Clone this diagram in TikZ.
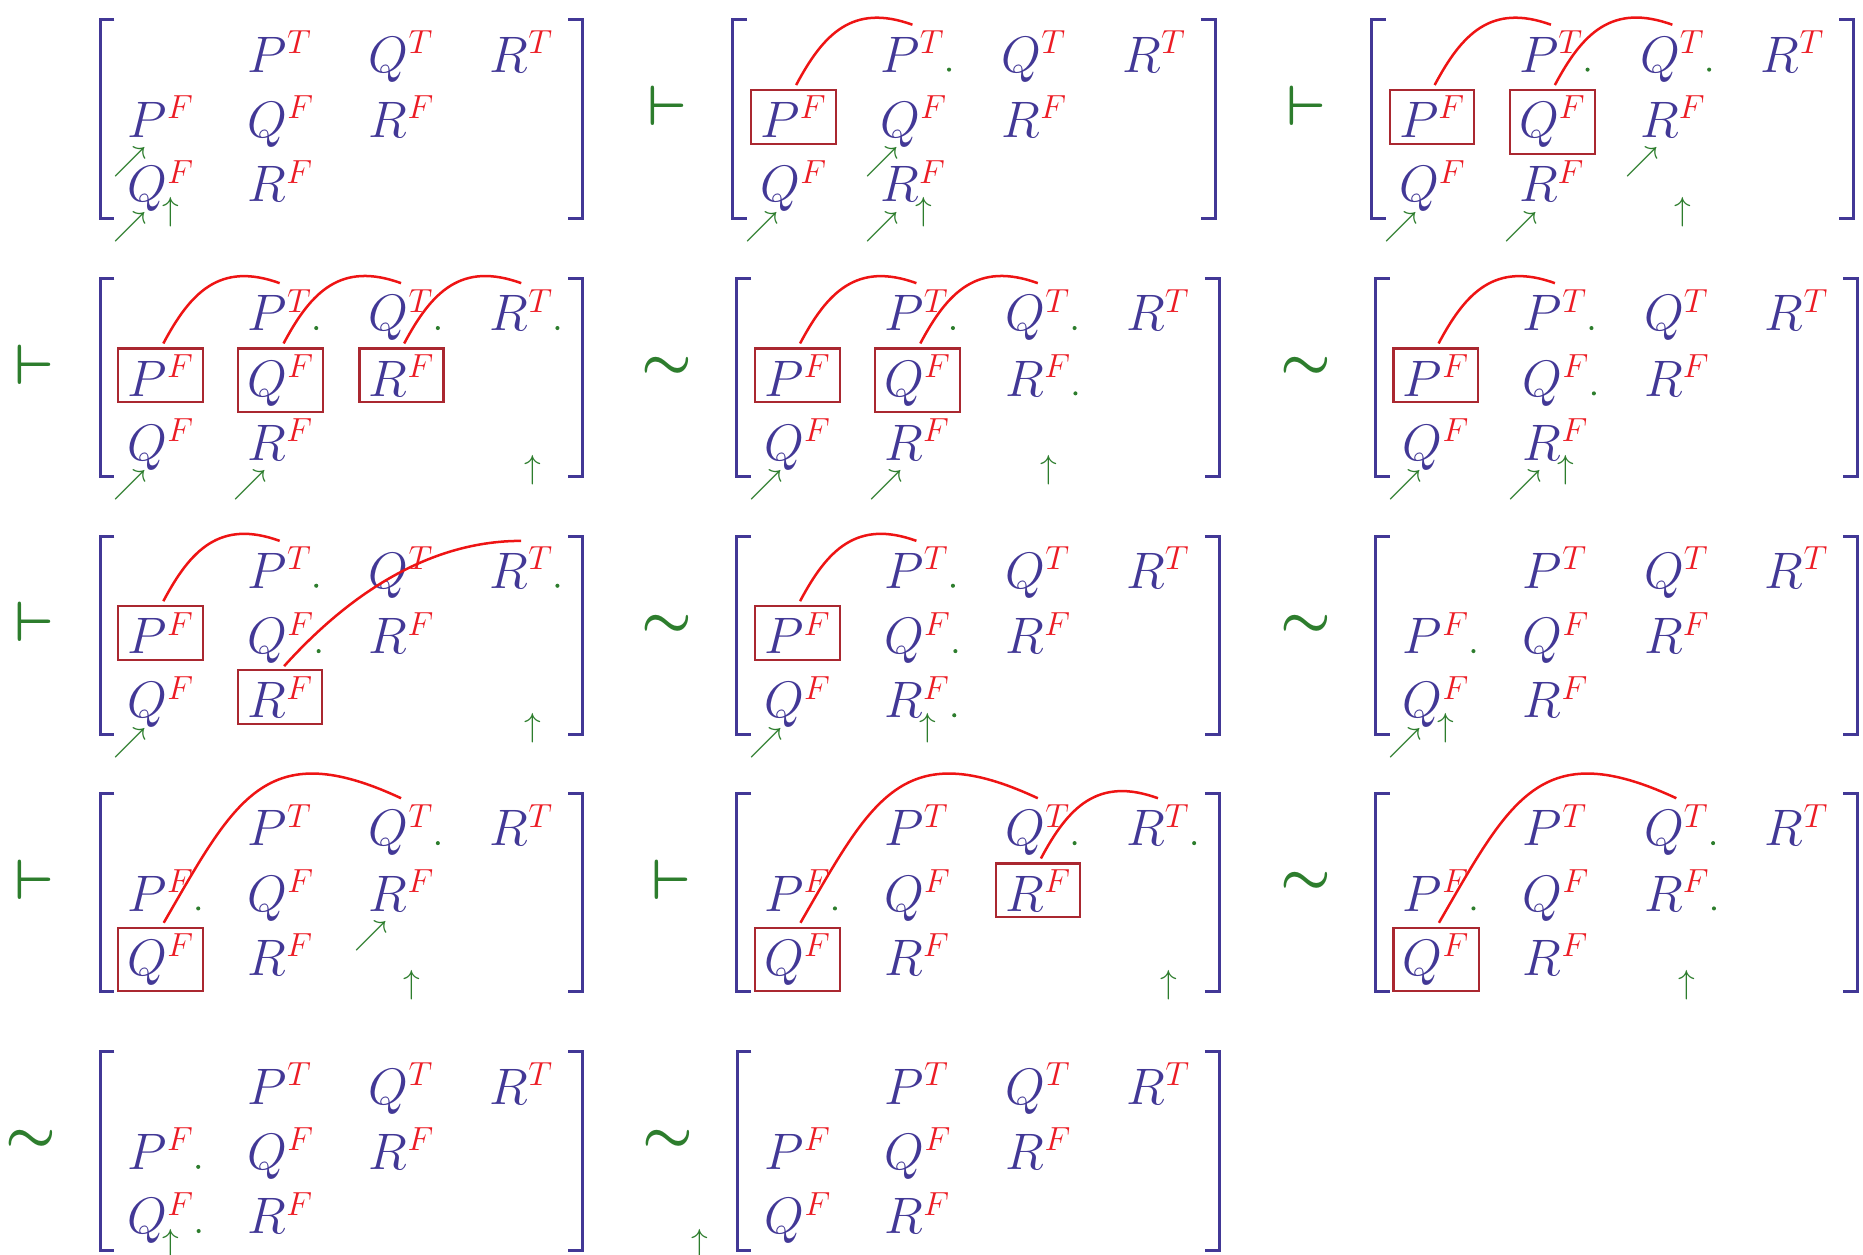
\documentclass[tikz,border=0pt]{standalone}
\usepackage{fix-cm}
\usepackage{amsmath,amssymb}
\usepackage{xcolor}
\usepackage{tikz}
\usetikzlibrary{calc}
\DeclareMathSizes{30.7}{30.7}{20}{14}
\DeclareMathSizes{34}{34}{24}{17}
\definecolor{TabBlue}{RGB}{66,56,150}
\definecolor{SupRed}{RGB}{236,28,36}
\definecolor{MarkGreen}{RGB}{45,125,45}
\definecolor{BoxRed}{RGB}{170,40,48}
\definecolor{ArcRed}{RGB}{238,20,20}
\newcommand{\ent}[2]{#1^{\textcolor{SupRed}{#2}}}
\tikzset{
  entry/.style={anchor=base west,inner xsep=0.19cm,inner ysep=0.12cm,text=TabBlue,font=\fontsize{30.7}{36}\selectfont},
  boxed/.style={draw=BoxRed,line width=1.3pt},
  brk/.style={draw=TabBlue,line width=1.8pt},
  opsym/.style={anchor=base,inner sep=0pt,text=MarkGreen,font=\fontsize{34}{40}\selectfont},
  umark/.style={inner sep=0pt,text=MarkGreen,font=\fontsize{20}{24}\selectfont},
  dmark/.style={umark},
  gdot/.style={fill=MarkGreen},
  link/.style={draw=ArcRed,line width=1.5pt,shorten <=0.12cm},
}
% one bracketed tableau: id, x, y of the top left corner
\newcommand{\tableau}[3]{%
  \begin{scope}[shift={(#2,#3)}]
    \coordinate (#1) at (0,0);
    \draw[brk] (12,0) -- (0,0) -- (0,-167) -- (12,-167);
    \draw[brk] (394,0) -- (406,0) -- (406,-167) -- (394,-167);
    \node[entry] (#1-PT) at (116.4,-44) {$\ent{P}{T}$};
    \node[entry] (#1-QT) at (218.4,-44) {$\ent{Q}{T}$};
    \node[entry] (#1-RT) at (320,-44) {$\ent{R}{T}$};
    \node[entry] (#1-PF) at (15.4,-99) {$\ent{P}{F}$};
    \node[entry] (#1-QF) at (116.4,-99) {$\ent{Q}{F}$};
    \node[entry] (#1-RF) at (218.4,-99) {$\ent{R}{F}$};
    \node[entry] (#1-QG) at (15.4,-153) {$\ent{Q}{F}$};
    \node[entry] (#1-RG) at (116.4,-153) {$\ent{R}{F}$};
    \foreach \k/\sx in {0/-31.4,1/59.5,2/160.5,3/262.5,4/364}
      \coordinate (#1-s\k) at (\sx,-161.6);
  \end{scope}}
\newcommand{\boxit}[1]{\draw[boxed] (#1.south west) rectangle (#1.north east);}
\newcommand{\dotafter}[1]{\fill[gdot] ([shift={(-4,2.2)}]#1.base east) circle (0.043cm);}
\newcommand{\diagmark}[2]{\node[dmark] (#1-d#2) at ([shift={(9.6,-21)}]#1-#2.base west) {$\nearrow$};}
\newcommand{\upmark}[2]{\node[umark] (#1-up) at (#1-s#2) {$\uparrow$};}
\newcommand{\turn}[1]{\node[opsym] (#1-op) at ([shift={(-55,-89)}]#1) {$\boldsymbol{\vdash}$};}
\newcommand{\simop}[1]{\node[opsym] (#1-op) at ([shift={(-58.5,-85)}]#1) {$\boldsymbol{\sim}$};}

\begin{document}
\begin{tikzpicture}[x=0.025cm,y=0.025cm]
    \useasboundingbox (0,0) rectangle (1568,-1056);

    % row 1
    \tableau{m1}{84.2}{-16.8}
    \diagmark{m1}{PF} \diagmark{m1}{QG} \upmark{m1}{1}

    \tableau{m2}{616.8}{-16.8}
    \turn{m2}
    \boxit{m2-PF}
    \dotafter{m2-PT}
    \draw[link] (m2-PF.north) to[out=62,in=160,looseness=1.2] (m2-PT.north);
    \diagmark{m2}{QF} \diagmark{m2}{QG} \diagmark{m2}{RG} \upmark{m2}{2}

    \tableau{m3}{1154.2}{-16.8}
    \turn{m3}
    \boxit{m3-PF} \boxit{m3-QF}
    \dotafter{m3-PT} \dotafter{m3-QT}
    \draw[link] (m3-PF.north) to[out=62,in=160,looseness=1.2] (m3-PT.north);
    \draw[link] (m3-QF.north) to[out=62,in=160,looseness=1.2] (m3-QT.north);
    \diagmark{m3}{RF} \diagmark{m3}{QG} \diagmark{m3}{RG} \upmark{m3}{3}

    % row 2
    \tableau{m4}{84.2}{-234.3}
    \turn{m4}
    \boxit{m4-PF} \boxit{m4-QF} \boxit{m4-RF}
    \dotafter{m4-PT} \dotafter{m4-QT} \dotafter{m4-RT}
    \draw[link] (m4-PF.north) to[out=62,in=160,looseness=1.2] (m4-PT.north);
    \draw[link] (m4-QF.north) to[out=62,in=160,looseness=1.2] (m4-QT.north);
    \draw[link] (m4-RF.north) to[out=62,in=160,looseness=1.2] (m4-RT.north);
    \diagmark{m4}{QG} \diagmark{m4}{RG} \upmark{m4}{4}

    \tableau{m5}{620.1}{-234.3}
    \simop{m5}
    \boxit{m5-PF} \boxit{m5-QF}
    \dotafter{m5-PT} \dotafter{m5-QT} \dotafter{m5-RF}
    \draw[link] (m5-PF.north) to[out=62,in=160,looseness=1.2] (m5-PT.north);
    \draw[link] (m5-QF.north) to[out=62,in=160,looseness=1.2] (m5-QT.north);
    \diagmark{m5}{QG} \diagmark{m5}{RG} \upmark{m5}{3}

    \tableau{m6}{1157.5}{-234.3}
    \simop{m6}
    \boxit{m6-PF}
    \dotafter{m6-PT} \dotafter{m6-QF}
    \draw[link] (m6-PF.north) to[out=62,in=160,looseness=1.2] (m6-PT.north);
    \diagmark{m6}{QG} \diagmark{m6}{RG} \upmark{m6}{2}

    % row 3
    \tableau{m7}{84.2}{-451.2}
    \turn{m7}
    \boxit{m7-PF} \boxit{m7-RG}
    \dotafter{m7-PT} \dotafter{m7-RT} \dotafter{m7-QF}
    \draw[link] (m7-PF.north) to[out=62,in=160,looseness=1.2] (m7-PT.north);
    \draw[link] (m7-RG.north) to[out=48,in=180,looseness=0.9] (m7-RT.north);
    \diagmark{m7}{QG} \upmark{m7}{4}

    \tableau{m8}{620.1}{-451.2}
    \simop{m8}
    \boxit{m8-PF}
    \dotafter{m8-PT} \dotafter{m8-QF} \dotafter{m8-RG}
    \draw[link] (m8-PF.north) to[out=62,in=160,looseness=1.2] (m8-PT.north);
    \diagmark{m8}{QG} \upmark{m8}{2}

    \tableau{m9}{1157.5}{-451.2}
    \simop{m9}
    \dotafter{m9-PF}
    \diagmark{m9}{QG} \upmark{m9}{1}

    % row 4
    \tableau{m10}{84.2}{-667.8}
    \turn{m10}
    \boxit{m10-QG}
    \dotafter{m10-PF} \dotafter{m10-QT}
    \draw[link] (m10-QG.north) to[out=60,in=155,looseness=1.4] (m10-QT.north);
    \diagmark{m10}{RF} \upmark{m10}{3}

    \tableau{m11}{620.1}{-667.8}
    \turn{m11}
    \boxit{m11-QG} \boxit{m11-RF}
    \dotafter{m11-PF} \dotafter{m11-QT} \dotafter{m11-RT}
    \draw[link] (m11-QG.north) to[out=60,in=155,looseness=1.4] (m11-QT.north);
    \draw[link] (m11-RF.north) to[out=62,in=160,looseness=1.2] (m11-RT.north);
    \upmark{m11}{4}

    \tableau{m12}{1157.5}{-667.8}
    \simop{m12}
    \boxit{m12-QG}
    \dotafter{m12-PF} \dotafter{m12-QT} \dotafter{m12-RF}
    \draw[link] (m12-QG.north) to[out=60,in=155,looseness=1.4] (m12-QT.north);
    \upmark{m12}{3}

    % row 5
    \tableau{m13}{84.2}{-885.3}
    \simop{m13}
    \dotafter{m13-PF} \dotafter{m13-QG}
    \upmark{m13}{1}

    \tableau{m14}{620.4}{-885.3}
    \simop{m14}
    \upmark{m14}{0}
\end{tikzpicture}
\end{document}
